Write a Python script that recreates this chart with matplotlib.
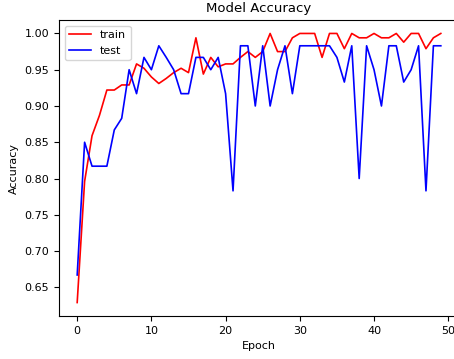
import matplotlib
matplotlib.use("Agg")
import matplotlib.pyplot as plt

# accuracy per epoch
train_acc = [0.629, 0.796, 0.859, 0.887, 0.922, 0.922, 0.929, 0.929, 0.958, 0.952,
             0.940, 0.931, 0.938, 0.946, 0.952, 0.946, 0.994, 0.944, 0.967, 0.954,
             0.958, 0.958, 0.967, 0.975, 0.967, 0.975, 1.000, 0.975, 0.975, 0.994,
             1.000, 1.000, 1.000, 0.967, 1.000, 1.000, 0.979, 1.000, 0.994, 0.994,
             1.000, 0.994, 0.994, 1.000, 0.988, 1.000, 1.000, 0.979, 0.994, 1.000]
test_acc = [0.667, 0.850, 0.817, 0.817, 0.817, 0.867, 0.883, 0.950, 0.917, 0.967,
            0.950, 0.983, 0.967, 0.950, 0.917, 0.917, 0.967, 0.967, 0.950, 0.967,
            0.917, 0.783, 0.983, 0.983, 0.900, 0.983, 0.900, 0.950, 0.983, 0.917,
            0.983, 0.983, 0.983, 0.983, 0.983, 0.967, 0.933, 0.983, 0.800, 0.983,
            0.950, 0.900, 0.983, 0.983, 0.933, 0.950, 0.983, 0.783, 0.983, 0.983]
epochs = list(range(len(train_acc)))

plt.rcParams['font.size'] = 8

fig = plt.figure(figsize=(4.54, 3.59), dpi=100)
ax = fig.add_axes([59 / 454, 1 - 316 / 359, 400 / 454, 296 / 359])

ax.plot(epochs, train_acc, color='r', linewidth=1.2, label='train')
ax.plot(epochs, test_acc, color='b', linewidth=1.2, label='test')

ax.set_title('Model Accuracy', fontsize=9.5)
ax.set_xlabel('Epoch')
ax.set_ylabel('Accuracy')
ax.legend(loc='upper left')

fig.savefig('out.png', dpi=100)
